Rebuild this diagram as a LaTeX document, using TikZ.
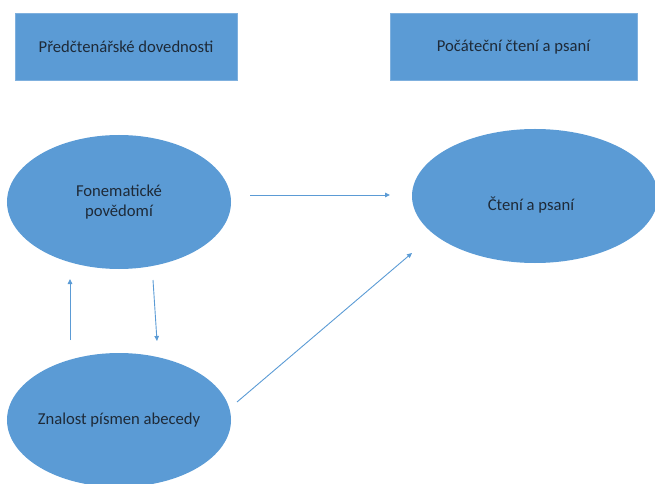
\documentclass[tikz,border=0pt]{standalone}
\usepackage{fontspec}
\setmainfont{Carlito}
\usetikzlibrary{shapes.geometric,arrows.meta}
\definecolor{officeblue}{HTML}{5B9BD5}
\definecolor{boxedge}{HTML}{7FB0DE}
\definecolor{txt}{HTML}{1E2A38}
\begin{document}
\begin{tikzpicture}[x=1bp,y=-1bp,
  lbl/.style={text=txt,font=\fontsize{16.7}{20}\selectfont,align=center,inner sep=0},
  hdr/.style={rectangle,fill=officeblue,draw=boxedge,line width=0.6bp,inner sep=0,lbl},
  oval/.style={ellipse,fill=officeblue,inner sep=0},
  conn/.style={draw=officeblue,line width=0.9bp,-{Triangle[length=5bp,width=4.5bp]}}]
\useasboundingbox (0,0) rectangle (655,484);
\clip (0,0) rectangle (655,484);
\node[hdr,minimum width=222bp,minimum height=67bp] (b1) at (126,47) {Předčtenářské dovednosti};
\node[hdr,minimum width=247bp,minimum height=67bp] (b2) at (513.5,47) {Počáteční čtení a psaní};
\node[oval,minimum width=224bp,minimum height=134bp] (fon) at (119,202) {};
\node[lbl] (fonT) at (fon.center) {Fonematické\\povědomí};
\node[oval,minimum width=246bp,minimum height=134bp] (cap) at (535,196) {};
\node[lbl,anchor=center] (capT) at (531,205) {Čtení a psaní};
\node[oval,minimum width=224bp,minimum height=134bp] (zna) at (119,420) {};
\node[lbl] (znaT) at (zna.center) {Znalost písmen abecedy};
\coordinate (h1) at (250,195);
\coordinate (h2) at (390,195);
\coordinate (u1) at (70,340);
\coordinate (u2) at (70,279);
\coordinate (d1) at (153,280);
\coordinate (d2) at (157,341);
\coordinate (g1) at (237,402);
\coordinate (g2) at (412,253);
\draw[conn] (h1) -- (h2);
\draw[conn] (u1) -- (u2);
\draw[conn] (d1) -- (d2);
\draw[conn] (g1) -- (g2);
\end{tikzpicture}
\end{document}
